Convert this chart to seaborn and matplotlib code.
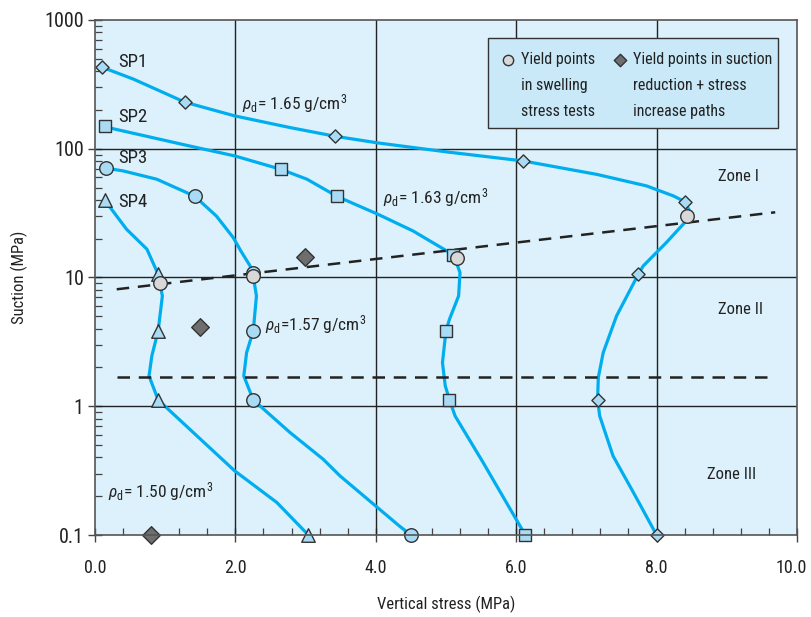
import numpy as np
import pandas as pd
import matplotlib
matplotlib.use("Agg")
import matplotlib.pyplot as plt
import matplotlib.transforms as mtransforms
import seaborn as sns
from matplotlib.patches import Rectangle
from matplotlib.ticker import FixedLocator, LogLocator, NullFormatter, MultipleLocator
from matplotlib import font_manager as fm

# ---------------- data ----------------
sp1_curve_x = [0.10, 0.55, 1.28, 1.99, 2.78, 3.42, 4.03, 5.01, 6.10, 7.15, 7.86, 8.24, 8.40, 8.47, 8.40,
               8.14, 7.81, 7.74, 7.43, 7.24, 7.17, 7.16, 7.19, 7.38, 7.67, 8.00]
sp1_curve_y = [430, 347, 230, 180, 146, 125, 111, 94.5, 80.4, 63.2, 51.4, 43, 38.9, 32.9, 26.7,
               18.7, 12.3, 10.6, 5.03, 2.61, 1.67, 1.12, 0.84, 0.411, 0.214, 0.1]
sp1_pts_x = [0.10, 1.28, 3.42, 6.10, 8.40, 7.74, 7.16, 8.00]
sp1_pts_y = [430, 230, 125, 80.4, 38.9, 10.6, 1.12, 0.1]

sp2_curve_x = [0.14, 0.26, 1.35, 1.99, 2.645, 3.02, 3.45, 4.03, 4.53, 5.01, 5.12, 5.20, 5.18, 5.05, 5.00,
               4.95, 4.99, 5.05, 5.13, 5.53, 5.86, 6.13]
sp2_curve_y = [150, 143, 105, 88, 69.3, 58, 42.6, 31, 23, 16.1, 14.5, 10.9, 7.19, 4.74, 3.85,
               2.18, 1.44, 1.12, 0.84, 0.365, 0.179, 0.1]
sp2_pts_x = [0.14, 2.645, 3.45, 5.10, 5.00, 5.05, 6.13]
sp2_pts_y = [150, 69.3, 42.6, 14.9, 3.85, 1.12, 0.1]

sp3_curve_x = [0.16, 0.40, 0.88, 1.42, 1.73, 1.97, 2.08, 2.21, 2.25, 2.30, 2.255, 2.16, 2.12, 2.255,
               2.78, 3.25, 3.49, 4.34, 4.50]
sp3_curve_y = [70.6, 67.3, 58, 42.8, 30, 20.4, 16, 12.3, 10.6, 7.19, 3.85, 2.61, 1.72, 1.12,
               0.624, 0.388, 0.288, 0.117, 0.1]
sp3_pts_x = [0.16, 1.42, 2.25, 2.255, 2.255, 4.50]
sp3_pts_y = [70.6, 42.8, 10.9, 3.85, 1.12, 0.1]

sp4_curve_x = [0.14, 0.45, 0.74, 0.90, 0.96, 0.90, 0.81, 0.77, 0.90, 1.35, 1.99, 2.59, 3.04]
sp4_curve_y = [39.8, 23.7, 16.6, 10.6, 7.19, 3.85, 2.46, 1.72, 1.12, 0.663, 0.315, 0.179, 0.1]
sp4_pts_x = [0.14, 0.90, 0.90, 0.90, 3.04]
sp4_pts_y = [39.8, 10.6, 3.85, 1.12, 0.1]

swell_x = [8.43, 5.16, 2.25, 0.93]
swell_y = [30.1, 14.1, 10.2, 9.0]

path_x = [2.99, 1.50, 0.80]
path_y = [14.4, 4.1, 0.1]

zone12_x = [0.31, 9.69]
zone12_y = [8.1, 32.1]
zone23_x = [0.31, 9.69]
zone23_y = [1.68, 1.68]

series_labels = ["SP1", "SP2", "SP3", "SP4"]
x_ticks = [0, 2, 4, 6, 8, 10]
x_tick_labels = ["0.0", "2.0", "4.0", "6.0", "8.0", "10.0"]
y_ticks = [0.1, 1, 10, 100, 1000]
y_tick_labels = ["0.1", "1", "10", "100", "1000"]

# ---------------- style ----------------
sns.set_style("ticks")
names = {f.name for f in fm.fontManager.ttflist}
narrow = None
for cand in ["Liberation Sans Narrow", "Roboto Condensed", "Open Sans Condensed", "DejaVu Sans"]:
    if cand in names:
        narrow = cand
        break
plt.rcParams["font.family"] = [narrow, "DejaVu Sans"]
plt.rcParams["font.stretch"] = "condensed"
plt.rcParams["mathtext.fontset"] = "custom"
plt.rcParams["mathtext.rm"] = f"{narrow}:stretch=condensed"
plt.rcParams["mathtext.it"] = f"{narrow}:italic:stretch=condensed"
plt.rcParams["mathtext.bf"] = f"{narrow}:bold:stretch=condensed"

LINE = "#00aeef"
FILL = "#a9dcf4"
EDGE = "#333333"
BG = "#dcf1fb"
TXT = "#222222"

fig = plt.figure(figsize=(8.11, 6.17), dpi=100)
ax = fig.add_axes([0.1171, 0.1329, 0.8656, 0.8347])
ax.set_facecolor(BG)
ax.set_yscale("log")
ax.set_xlim(0, 10)
ax.set_ylim(0.1, 1000)

# grid
for gx in [2, 4, 6, 8]:
    ax.axvline(gx, color="#222222", lw=1.0, zorder=1)
for gy in [1, 10, 100]:
    ax.axhline(gy, color="#222222", lw=1.0, zorder=1)

# curves
curves = [(sp1_curve_x, sp1_curve_y), (sp2_curve_x, sp2_curve_y),
          (sp3_curve_x, sp3_curve_y), (sp4_curve_x, sp4_curve_y)]
for cx, cy in curves:
    sns.lineplot(x=cx, y=cy, sort=False, estimator=None, color=LINE, lw=2.3, ax=ax, zorder=3)
for ln in ax.lines[-4:]:
    ln.set_solid_joinstyle("round")

# zone boundaries
for zx, zy in [(zone12_x, zone12_y), (zone23_x, zone23_y)]:
    sns.lineplot(x=zx, y=zy, sort=False, estimator=None, color="#222222", lw=1.8,
                 ax=ax, zorder=4, linestyle=(0, (5, 3.5)))

# markers
pts = [(sp1_pts_x, sp1_pts_y, "D", 45), (sp2_pts_x, sp2_pts_y, "s", 80),
       (sp3_pts_x, sp3_pts_y, "o", 95), (sp4_pts_x, sp4_pts_y, "^", 95)]
for px, py, mk, sz in pts:
    sns.scatterplot(x=px, y=py, marker=mk, s=sz, color=FILL, edgecolor=EDGE,
                    linewidth=1.0, ax=ax, zorder=5)
sns.scatterplot(x=swell_x, y=swell_y, marker="o", s=95, color="#d8d8d8", edgecolor=EDGE,
                linewidth=1.0, ax=ax, zorder=6)
sns.scatterplot(x=path_x, y=path_y, marker="D", s=80, color="#6e6e6e", edgecolor=EDGE,
                linewidth=1.0, ax=ax, zorder=6)
for c in ax.collections:
    c.set_clip_on(False)

# series labels
label_pos = [(0.33, 474), (0.33, 177), (0.33, 84), (0.33, 38.7)]
for lab, (lx, ly) in zip(series_labels, label_pos):
    ax.text(lx, ly, lab, fontsize=13.5, va="center", ha="left", color=TXT, zorder=7)

# density annotations
FS = 12.5
def rho(val, sep=" "):
    return r"$\mathit{\rho}_{\rm d}$=" + sep + val + r" g/cm$^{3}$"
ax.text(2.09, 225, rho("1.65"), fontsize=FS, va="center", color=TXT)
ax.text(4.10, 42, rho("1.63"), fontsize=FS, va="center", color=TXT)
ax.text(2.42, 4.33, rho("1.57", ""), fontsize=FS, va="center", color=TXT)
ax.text(0.185, 0.219, rho("1.50"), fontsize=FS, va="center", color=TXT)

# zones
ax.text(9.16, 61, "Zone I", fontsize=12, ha="center", va="center", color=TXT)
ax.text(9.2, 5.67, "Zone II", fontsize=12, ha="center", va="center", color=TXT)
ax.text(9.07, 0.296, "Zone III", fontsize=12, ha="center", va="center", color=TXT)

# legend box (manual)
ax.add_patch(Rectangle((0.56, 0.79), 0.413, 0.175, transform=ax.transAxes,
                       facecolor="#c9e9f8", edgecolor="#333333", lw=1.0, zorder=8))
ax.scatter([0.588], [0.922], transform=ax.transAxes, marker="o", s=55, color="#d8d8d8",
           edgecolor=EDGE, linewidth=1.0, zorder=9)
ax.scatter([0.748], [0.922], transform=ax.transAxes, marker="D", s=40, color="#6e6e6e",
           edgecolor=EDGE, linewidth=1.0, zorder=9)
ax.text(0.607, 0.937, "Yield points\nin swelling\nstress tests", transform=ax.transAxes,
        fontsize=11.5, va="top", ha="left", linespacing=1.9, zorder=9, color=TXT)
ax.text(0.767, 0.937, "Yield points in suction\nreduction + stress\nincrease paths",
        transform=ax.transAxes, fontsize=11.5, va="top", ha="left", linespacing=1.9,
        zorder=9, color=TXT)

# axes, ticks
ax.set_xticks(x_ticks)
ax.set_xticklabels(x_tick_labels)
ax.xaxis.set_minor_locator(MultipleLocator(0.4))
ax.yaxis.set_major_locator(FixedLocator(y_ticks))
ax.set_yticklabels(y_tick_labels)
ax.yaxis.set_minor_locator(LogLocator(base=10, subs=np.arange(2, 10)))
ax.yaxis.set_minor_formatter(NullFormatter())
ax.tick_params(axis="both", which="major", direction="inout", length=10, width=1.0,
               color="#444444", labelcolor=TXT)
ax.tick_params(axis="x", which="major", labelsize=13, pad=12)
ax.tick_params(axis="y", which="major", labelsize=14.5, pad=3)
ax.tick_params(axis="both", which="minor", direction="in", length=5, width=0.9, color="#444444")
for s in ax.spines.values():
    s.set_color("#555555")
    s.set_linewidth(1.2)
    s.set_zorder(7)

# keep the last x tick label inside the canvas
last = ax.get_xticklabels()[-1]
last.set_transform(last.get_transform() +
                   mtransforms.ScaledTranslation(-4 / 72, 0, fig.dpi_scale_trans))

ax.set_xlabel("Vertical stress (MPa)", fontsize=12, color=TXT, labelpad=14)
ax.set_ylabel("Suction (MPa)", fontsize=12, color=TXT, labelpad=12)

fig.savefig("out.png", dpi=100)
